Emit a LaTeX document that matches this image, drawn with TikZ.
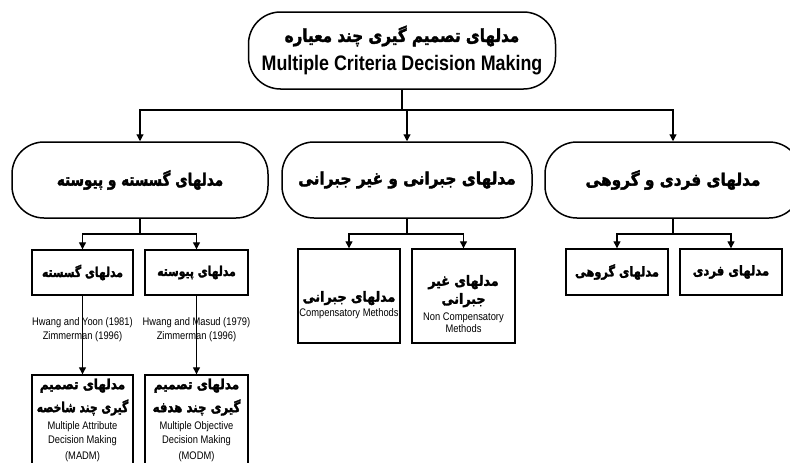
\documentclass[tikz,border=0pt]{standalone}
\usepackage{fontspec}
\usepackage{graphicx}
\setmainfont{Liberation Sans}
\newfontfamily\fa[Script=Arabic,BoldFeatures={FakeBold=2.2}]{DejaVu Sans}
\newfontfamily\narrowfont[FakeStretch=0.85]{Liberation Sans}
\TeXXeTstate=1
\usetikzlibrary{arrows.meta}
% Persian line: optional horizontal scale, size, text (bold)
\newcommand{\pl}[3][1]{\scalebox{#1}[1]{\fontsize{#2}{#2}\selectfont\fa\bfseries #3}}
% narrow Latin line: size, text
\newcommand{\en}[2]{{\narrowfont\fontsize{#1}{#1}\selectfont #2}}
\begin{document}
\begin{tikzpicture}[x=1pt,y=-1pt,
  stadium/.style={draw, line width=1.5pt, rounded corners=32pt, inner sep=0pt, align=center},
  boxnode/.style={draw, line width=1.4pt, inner sep=0pt, align=center},
  lbl/.style={inner sep=0pt, align=center},
  conn/.style={line width=1.2pt},
  arr/.style={line width=1.2pt, -{Triangle[width=7pt,length=7pt]}},
  cite/.style={inner sep=0pt, align=center, font=\fontsize{11}{14}\selectfont}
]
\clip (0,0) rectangle (790,463);
\fill[white] (0,0) rectangle (790,463);

% root
\node[stadium, minimum width=307pt, minimum height=77pt, font=\fontsize{10}{29}\selectfont] (mcdm) at (402,50.5)
  {\pl[0.84]{18}{\beginR مدلهای تصمیم گیری چند معیاره\endR}\\
   \en{21}{\bfseries Multiple Criteria Decision Making}};

% second level
\node[stadium, minimum width=256pt, minimum height=76pt] (gdis) at (140,180)
  {\pl[0.8]{17}{\beginR مدلهای گسسته و پیوسته\endR}};
\node[stadium, minimum width=250pt, minimum height=76pt] (gcom) at (407,180)
  {\pl[0.9]{17}{\beginR مدلهای جبرانی و غیر جبرانی\endR}};
\node[stadium, minimum width=256pt, minimum height=76pt] (gind) at (673,180)
  {\pl[0.9]{17}{\beginR مدلهای فردی و گروهی\endR}};

% third level, left group
\node[boxnode, minimum width=101pt, minimum height=45pt] (disc) at (82.5,272.5)
  {\pl[0.8]{13.5}{\beginR مدلهای گسسته\endR}};
\node[boxnode, minimum width=103pt, minimum height=45pt] (cont) at (196.5,272.5)
  {\pl[0.8]{13.5}{\beginR مدلهای پیوسته\endR}};

\node[boxnode, minimum width=101pt, minimum height=100pt] (madm) at (82.5,425) {};
\node[boxnode, minimum width=103pt, minimum height=100pt] (modm) at (196.5,425) {};
\node[lbl, font=\fontsize{10}{20}\selectfont] (madmt) at (82.5,420)
  {\pl[0.86]{14}{\beginR مدلهای تصمیم\endR}\\[3pt]
   \pl[0.76]{14}{\beginR گیری چند شاخصه\endR}\\[-3pt]
   \en{11}{Multiple Attribute}\\[-6pt]
   \en{11}{Decision Making}\\[-4pt]
   \en{11}{(MADM)}};
\node[lbl, font=\fontsize{10}{20}\selectfont] (modmt) at (196.5,420)
  {\pl[0.86]{14}{\beginR مدلهای تصمیم\endR}\\[3pt]
   \pl[0.84]{14}{\beginR گیری چند هدفه\endR}\\[-3pt]
   \en{11}{Multiple Objective}\\[-6pt]
   \en{11}{Decision Making}\\[-4pt]
   \en{11}{(MODM)}};

% third level, middle group
\node[boxnode, minimum width=102pt, minimum height=94pt] (comp) at (349,296) {};
\node[boxnode, minimum width=103pt, minimum height=94pt] (ncomp) at (463.5,296) {};
\node[lbl, font=\fontsize{10}{15}\selectfont] (compt) at (349,305)
  {\pl[0.9]{14}{\beginR مدلهای جبرانی\endR}\\
   \en{11}{Compensatory Methods}};
\node[lbl, font=\fontsize{10}{20}\selectfont] (ncompt) at (463.5,304)
  {\pl[0.9]{14}{\beginR مدلهای غیر\endR}\\[-2pt]
   \pl[0.9]{14}{\beginR جبرانی\endR}\\[-3pt]
   \en{11}{Non Compensatory}\\[-8pt]
   \en{11}{Methods}};

% third level, right group
\node[boxnode, minimum width=102pt, minimum height=46pt] (grp) at (617,272)
  {\pl[0.84]{13.5}{\beginR مدلهای گروهی\endR}};
\node[boxnode, minimum width=102pt, minimum height=46pt] (ind) at (731,272)
  {\pl[0.86]{13.5}{\beginR مدلهای فردی\endR}};

% junctions
\coordinate (j0) at (mcdm.south |- 0,110);
\coordinate (j1) at (gdis.south |- 0,234);
\coordinate (j2) at (gcom.south |- 0,234);
\coordinate (j3) at (gind.south |- 0,234);

% connectors
\draw[conn] (mcdm.south) -- (j0);
\draw[arr] (j0) -| (gdis.north);
\draw[arr] (j0) -| (gcom.north);
\draw[arr] (j0) -| (gind.north);

\draw[conn] (gdis.south) -- (j1);
\draw[arr] (j1) -| (disc.north);
\draw[arr] (j1) -| (cont.north);
\draw[arr] (disc.south) -- (madm.north);
\draw[arr] (cont.south) -- (modm.north);

\draw[conn] (gcom.south) -- (j2);
\draw[arr] (j2) -| (comp.north);
\draw[arr] (j2) -| (ncomp.north);

\draw[conn] (gind.south) -- (j3);
\draw[arr] (j3) -| (grp.north);
\draw[arr] (j3) -| (ind.north);

% citations, set over the vertical connectors
\node[cite] (cdisc) at (82.5,330) {\en{11}{Hwang and Yoon (1981)}\\\en{11}{Zimmerman (1996)}};
\node[cite] (ccont) at (196.5,330) {\en{11}{Hwang and Masud (1979)}\\\en{11}{Zimmerman (1996)}};
\end{tikzpicture}
\end{document}
